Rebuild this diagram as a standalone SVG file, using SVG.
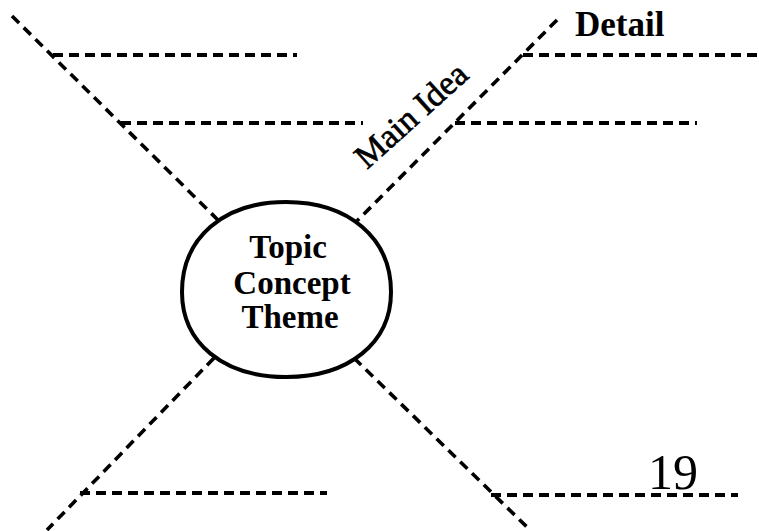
<svg xmlns="http://www.w3.org/2000/svg" width="759" height="531" viewBox="0 0 759 531">
  <style>
    .dash { stroke: #000; stroke-width: 4; stroke-dasharray: 10 6; fill: none; }
    .diag { stroke: #000; stroke-width: 3.6; stroke-dasharray: 10 6.5; fill: none; }
    .oval { stroke: #000; stroke-width: 4; fill: #fff; }
    .topic { font-family: "Liberation Serif", "Times New Roman", serif; font-weight: bold; font-size: 33px; text-anchor: middle; fill: #000; }
    .lbl { font-family: "Liberation Serif", "Times New Roman", serif; fill: #000; }
  </style>
  <rect width="759" height="531" fill="#fff"/>
  <g id="connectors">
    <line class="diag" x1="12" y1="16" x2="222" y2="224"/>
    <line class="diag" x1="557" y1="20" x2="353" y2="225"/>
    <line class="diag" x1="214" y1="358" x2="47" y2="530"/>
    <line class="diag" x1="354" y1="358" x2="527" y2="527"/>
    <line class="dash" x1="53" y1="55" x2="297" y2="55"/>
    <line class="dash" x1="121" y1="123" x2="363" y2="123"/>
    <line class="dash" x1="523" y1="55" x2="759" y2="55"/>
    <line class="dash" x1="455" y1="123" x2="697" y2="123"/>
    <line class="dash" x1="80" y1="493" x2="327" y2="493"/>
    <line class="dash" x1="491" y1="495" x2="738" y2="495"/>
  </g>
  <g id="center">
    <path class="oval" d="M286,202 C348.7,202 391,238 391,292 C391,343 348.7,377 286,377 C223.3,377 182,343 182,292 C182,238 223.3,202 286,202 Z"/>
    <text class="topic" x="288" y="258">Topic</text>
    <text class="topic" x="292" y="294">Concept</text>
    <text class="topic" x="290" y="328">Theme</text>
  </g>
  <g id="main-idea">
    <text class="lbl" font-size="34" stroke="#000" stroke-width="0.7" transform="translate(367,170) rotate(-42)">Main Idea</text>
  </g>
  <g id="detail">
    <text class="lbl" font-size="35" font-weight="bold" x="575" y="36">Detail</text>
  </g>
  <g id="page-number">
    <text class="lbl" font-size="50" x="648" y="489">19</text>
  </g>
</svg>
